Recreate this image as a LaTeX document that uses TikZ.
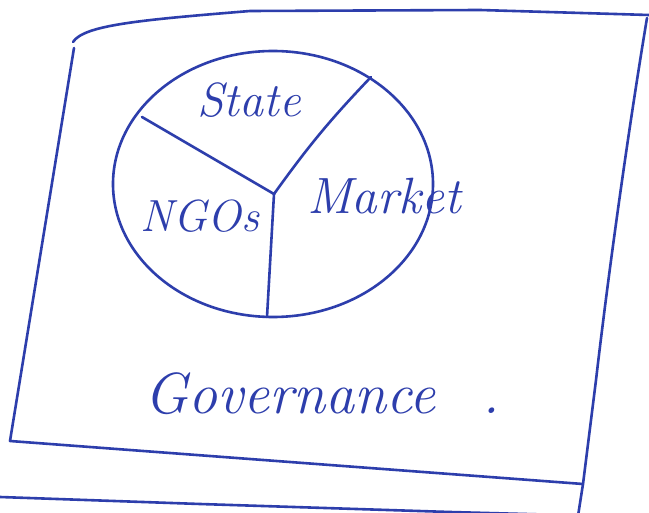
\documentclass[tikz,border=0pt]{standalone}
\definecolor{pen}{RGB}{45,62,172}
\begin{document}
\begin{tikzpicture}[x=1pt,y=-1pt,
						every node/.style={anchor=base,text=pen,font=\itshape}]
						\tikzstyle{ink}=[pen,line width=2.6pt,line cap=round,line join=round];
						\useasboundingbox (0,0) rectangle (649,513);
						\clip (0,0) rectangle (649,513);
						\fill[white] (0,0) rectangle (649,513);
						% sheet outline
						\draw[ink] (74,48) -- (10,441) -- (583,484);
						\draw[ink] (73,42) .. controls (84,25) and (140,20) .. (250,11) -- (480,10) -- (649,15);
						\draw[ink] (647,18) .. controls (630,120) and (610,260) .. (596,380) -- (583,484) -- (578,516);
						\draw[ink] (0,497) -- (200,504) -- (450,512) -- (600,516);
						% pie
						\draw[ink] (273,184) ellipse [x radius=160,y radius=133];
						\coordinate (hub) at (274,194);
						\coordinate (rimnw) at (142,117);
						\coordinate (rimne) at (371,77);
						\coordinate (rims) at (267,317);
						\draw[ink] (rimnw) -- (hub);
						\draw[ink] (hub) to[bend left=4] (rimne);
						\draw[ink] (hub) -- (rims);
						\node(state) at (249,117) {\fontsize{48}{48}\selectfont State};
						\node(ngos) at (200,232) {\fontsize{45}{45}\selectfont NGOs};
						\node(market) at (384,214) {\fontsize{51}{51}\selectfont Market};
						\node(gov) at (322,414) {\fontsize{58}{58}\selectfont Governance\hspace{0.8em}.};
					\end{tikzpicture}
\end{document}
